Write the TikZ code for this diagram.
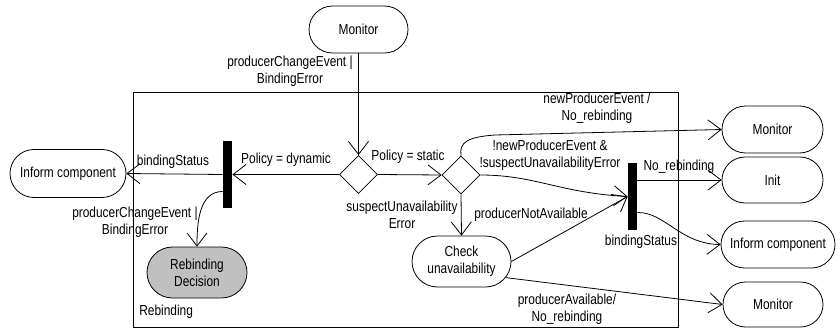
\documentclass[tikz,border=0pt]{standalone}
\usepackage{fontspec}
\setmainfont{Liberation Sans}[FakeStretch=0.82]
\usetikzlibrary{shapes.misc,shapes.geometric,arrows.meta}
\definecolor{decgray}{RGB}{192,192,192}
\begin{document}
\begin{tikzpicture}[x=1pt,y=-1pt, line width=0.8pt,
  every node/.style={font={\fontsize{14.5}{17}\selectfont}},
  state/.style={draw, rounded rectangle, inner sep=0pt, align=center},
  bar/.style={fill=black, draw=none, minimum width=9pt, minimum height=67pt, inner sep=0pt},
  choice/.style={draw, diamond, minimum size=38pt, inner sep=0pt},
  lbl/.style={inner sep=0pt, align=center},
  flow/.style={-{Straight Barb[length=13pt,width=20pt]}}
]
\useasboundingbox (0,0) rectangle (840,329);
\draw (133,92.5) rectangle (678,327.5);
% states
\node[state, minimum width=99pt, minimum height=47pt] (mon) at (358.5,29.5) {Monitor};
\node[state, minimum width=116pt, minimum height=48pt] (inf1) at (68,173.5) {Inform component};
\node[state, fill=decgray, minimum width=100pt, minimum height=51pt] (dec) at (197,272.5) {Rebinding\\Decision};
\node[state, minimum width=99pt, minimum height=51pt] (chk) at (461.5,261.5) {Check\\unavailability};
\node[state, minimum width=101pt, minimum height=47pt] (mon2) at (772.5,129.5) {Monitor};
\node[state, minimum width=101pt, minimum height=46pt] (init) at (772.5,180) {Init};
\node[state, minimum width=114pt, minimum height=47pt] (inf2) at (778,244.5) {Inform component};
\node[state, minimum width=100pt, minimum height=45pt] (mon3) at (773,304.5) {Monitor};
% choices and bars
\node[choice] (d1) at (358.5,174.5) {};
\node[choice] (d2) at (461,175) {};
\node[bar] (b1) at (227.5,174.5) {};
\node[bar] (b2) at (632.5,196.5) {};
% connectors
\draw[flow] (mon.south) -- (d1.north);
\draw[flow] (d1.west) -- (b1.east);
\draw[flow] (b1.west) -- (inf1.east);
\draw[flow] ([yshift=-17pt]b1.west) to[out=180,in=90] (dec.north);
\draw[flow] (d1.east) -- (d2.west);
\draw[flow] (d2.south) -- (chk.north);
\draw[flow] (d2.north) .. controls (459,142) and (468,137) .. (495,135) -- (mon2.west);
\draw[flow] (d2.east) .. controls (535,175) and (560,193) .. (b2.west);
\draw[flow] (chk.east) -- (b2.west);
\draw[flow] (chk.-20) -- (mon3.west);
\draw[flow] (b2.east |- init.west) -- (init.west);
\draw[flow] ([yshift=-16pt]b2.east) .. controls (665,212) and (680,244) .. (inf2.west);
% labels
\node[lbl] (l1) at (290,71.5) {producerChangeEvent |\\BindingError};
\node[lbl] (l2) at (173,162) {bindingStatus};
\node[lbl] (l3) at (286,160) {Policy = dynamic};
\node[lbl] (l4) at (408,157) {Policy = static};
\node[lbl] (l5) at (135,222) {producerChangeEvent |\\BindingError};
\node[lbl] (l6) at (402,215) {suspectUnavailability\\Error};
\node[lbl] (l7) at (597,108.5) {newProducerEvent /\\No\_rebinding};
\node[lbl] (l8) at (550,155.5) {!newProducerEvent \&\\!suspectUnavailabilityError};
\node[lbl] (l9) at (679,167) {No\_rebinding};
\node[lbl] (l10) at (531,215) {producerNotAvailable};
\node[lbl] (l11) at (641,242) {bindingStatus};
\node[lbl] (l12) at (567,309) {producerAvailable/\\No\_rebinding};
\node[lbl, anchor=west] (l13) at (139,312) {Rebinding};
\end{tikzpicture}
\end{document}
